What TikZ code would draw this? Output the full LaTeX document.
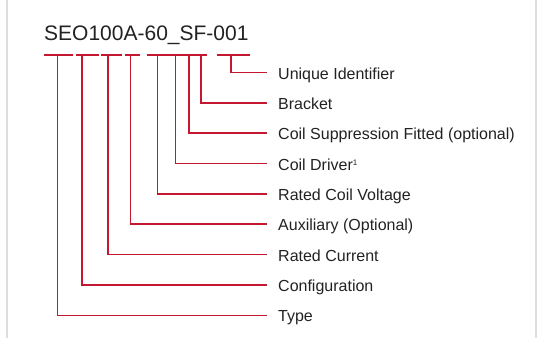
\documentclass[tikz,border=0pt]{standalone}
\usepackage{fontspec}
\setmainfont{Liberation Sans}
\definecolor{brandred}{RGB}{196,24,48}
\definecolor{txtgray}{RGB}{34,34,34}
\definecolor{framegray}{RGB}{221,221,221}
\begin{document}
\begin{tikzpicture}[x=1pt,y=-1pt,
  redline/.style={draw=brandred,line width=1.6pt},
  lab/.style={anchor=base west,inner sep=0pt,text=txtgray,font=\fontsize{16}{18}\selectfont},
  titlelab/.style={anchor=base west,inner sep=0pt,text=txtgray,font=\fontsize{21}{24}\selectfont},
  framel/.style={draw=framegray,line width=2pt}]
\useasboundingbox (0,0) rectangle (541,338);
% frame lines
\coordinate (fl1) at (7,0);   \coordinate (fl2) at (7,338);
\coordinate (fr1) at (535.7,0); \coordinate (fr2) at (535.7,338);
\draw[framel] (fl1) -- (fl2);
\draw[framel] (fr1) -- (fr2);
% title
\node[titlelab] (title) at (44,40.7) {SEO100A-60\_SF-001};
% bars
\foreach \a/\b [count=\i] in {44/73,75.5/98.5,101/122,124.5/140,147/207,216.7/249.5}{
  \coordinate (bs\i) at (\a,55);
  \coordinate (be\i) at (\b,55);
  \draw[redline] (bs\i) -- (be\i);
}
% connectors and labels
\foreach \vx/\txt [count=\i from 0] in {
  231/{Unique Identifier},
  200.8/{Bracket},
  188.8/{Coil Suppression Fitted (optional)},
  175.3/{Coil Driver\raisebox{5pt}{\fontsize{8}{8}\selectfont 1}},
  157.3/{Rated Coil Voltage},
  130.5/{Auxiliary (Optional)},
  108/{Rated Current},
  82/{Configuration},
  57.5/{Type}}{
  \pgfmathsetmacro{\yy}{72.5+30.35*\i}
  \coordinate (t\i) at (\vx,55);
  \coordinate (e\i) at (267.3,\yy);
  \node[lab] (l\i) at (278,\yy+6.5) {\txt};
  \draw[redline] (t\i) |- (e\i);
}
\end{tikzpicture}
\end{document}
